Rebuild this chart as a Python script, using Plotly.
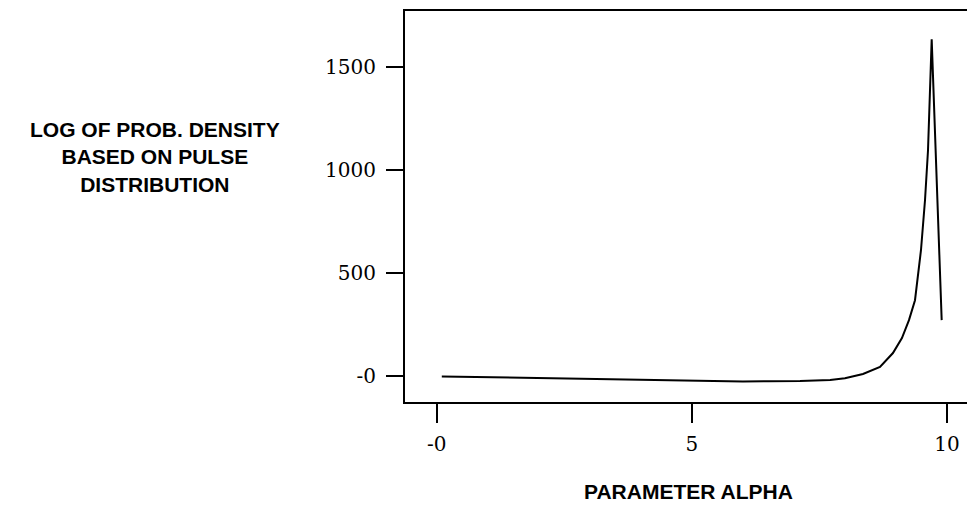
import plotly.graph_objects as go

alpha = [0.1, 1, 2, 3, 4, 5, 5.5, 6, 6.5, 7.12, 7.71, 8.0, 8.354, 8.687, 8.941, 9.117,
         9.255, 9.373, 9.49, 9.569, 9.628, 9.667, 9.70, 9.896]
log_density = [-4, -8, -12, -17, -21, -26, -28, -28, -27, -26, -21, -12, 8, 42, 110, 183,
               270, 367, 610, 853, 1096, 1339, 1635, 270]

x_ticks = [0, 5, 10]
x_tick_text = ["-0", "5", "10"]
y_ticks = [0, 500, 1000, 1500]
y_tick_text = ["-0", "500", "1000", "1500"]

fig = go.Figure()
fig.add_trace(go.Scatter(x=alpha, y=log_density, mode="lines",
                         line=dict(color="black", width=2), showlegend=False))

tick_font = dict(family="DejaVu Serif", size=20, color="black")
fig.update_layout(
    width=967, height=513,
    margin=dict(l=405, r=0, t=11, b=111),
    paper_bgcolor="white", plot_bgcolor="white",
    xaxis=dict(range=[-0.621, 10.392], tickvals=x_ticks, ticktext=x_tick_text,
               showgrid=False, zeroline=False, showline=True, linecolor="black",
               linewidth=2, mirror=True, ticks="outside", ticklen=19, tickwidth=2,
               tickcolor="black", tickfont=tick_font, ticklabelstandoff=4),
    yaxis=dict(range=[-128, 1773], tickvals=y_ticks, ticktext=y_tick_text,
               showgrid=False, zeroline=False, showline=True, linecolor="black",
               linewidth=2, mirror=False, ticks="outside", ticklen=17, tickwidth=2,
               tickcolor="black", tickfont=tick_font, ticklabelstandoff=6),
)

title_font = dict(family="Liberation Sans", size=21, color="black")
fig.add_annotation(text="<b>LOG OF PROB. DENSITY<br>BASED ON PULSE<br>DISTRIBUTION</b>",
                   xref="paper", yref="paper", x=-0.445, y=0.627, xanchor="center",
                   yanchor="middle", showarrow=False, font=title_font, align="center")
fig.add_annotation(text="<b>PARAMETER ALPHA</b>", xref="paper", yref="paper",
                   x=0.505, y=-0.23, xanchor="center", yanchor="middle",
                   showarrow=False, font=title_font)

fig.write_html("out.html")
